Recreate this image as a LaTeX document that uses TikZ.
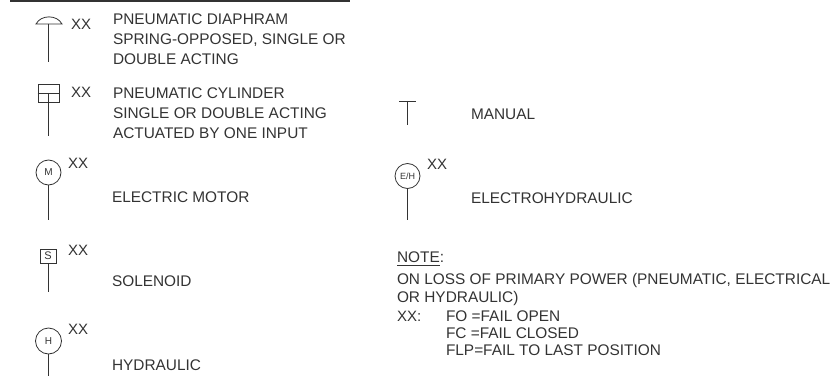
\documentclass[tikz,border=0pt]{standalone}
\usepackage{fontspec}
\setmainfont{Liberation Sans}
\definecolor{ink}{HTML}{333333}
\tikzset{
  lab/.style={anchor=west,inner sep=0pt,outer sep=0pt,text=ink,font=\fontsize{15.4}{20}\selectfont,align=left},
  notelab/.style={lab,font=\fontsize{15.4}{17.3}\selectfont},
  xxlab/.style={lab,font=\fontsize{15}{17}\selectfont},
  sym/.style={draw=ink,line width=0.8pt,inner sep=0pt},
  rnd/.style={sym,circle,minimum size=25pt,text=ink,font=\fontsize{10}{11}\selectfont},
  stem/.style={draw=ink,line width=0.8pt}
}
\begin{document}
\begin{tikzpicture}[x=1pt,y=-1pt]
\useasboundingbox (0,0) rectangle (837,377);
\coordinate (tl) at (10,1.5); \coordinate (tr) at (350,1.5);
\draw[ink,line width=2pt] (tl) -- (tr);

% diaphragm
\coordinate (d1) at (36,24); \coordinate (d2) at (62,24);
\coordinate (dc) at (48.5,24); \coordinate (de) at (48.5,62);
\draw[stem] (d1) .. controls (41,14.5) and (57,14.5) .. (d2) -- cycle;
\draw[stem] (dc) -- (de);
\node[xxlab] (xd) at (71,24) {XX};
\node[lab] (td) at (113,39) {PNEUMATIC DIAPHRAM\\SPRING-OPPOSED, SINGLE OR\\DOUBLE ACTING};

% cylinder
\node[sym,rectangle,minimum width=21pt,minimum height=18pt] (cy) at (48.5,93) {};
\draw[stem] (cy.west) -- (cy.east);
\coordinate (ce) at (48.5,136);
\draw[stem] (cy.center) -- (ce);
\node[xxlab] (xc) at (71,92) {XX};
\node[lab] (tc) at (113,113) {PNEUMATIC CYLINDER\\SINGLE OR DOUBLE ACTING\\ACTUATED BY ONE INPUT};

% motor
\node[rnd] (m) at (48.5,172.5) {M};
\coordinate (me) at (48.5,220);
\draw[stem] (m) -- (me);
\node[xxlab] (xm) at (68,163) {XX};
\node[lab] (tm) at (112,197) {ELECTRIC MOTOR};

% solenoid
\node[sym,rectangle,minimum width=16pt,minimum height=14pt,text=ink,font=\fontsize{11}{12}\selectfont] (s) at (48,256) {S};
\coordinate (se) at (48,292);
\draw[stem] (s) -- (se);
\node[xxlab] (xs) at (68,250) {XX};
\node[lab] (ts) at (112,281) {SOLENOID};

% hydraulic
\node[rnd,minimum size=26pt] (h) at (48.5,341) {H};
\coordinate (he) at (48.5,376);
\draw[stem] (h) -- (he);
\node[xxlab] (xh) at (68,329) {XX};
\node[lab] (th) at (112,365) {HYDRAULIC};

% manual
\coordinate (ma) at (399,101); \coordinate (mb) at (416,101);
\coordinate (mt) at (407.5,101); \coordinate (mu) at (407.5,125);
\draw[stem] (ma) -- (mb);
\draw[stem] (mt) -- (mu);
\node[lab] (tma) at (471,114) {MANUAL};

% electrohydraulic
\node[rnd,font=\fontsize{9}{10}\selectfont] (eh) at (407.5,176) {E/H};
\coordinate (ee) at (407.5,220);
\draw[stem] (eh) -- (ee);
\node[xxlab] (xe) at (427,164) {XX};
\node[lab] (te) at (471,198) {ELECTROHYDRAULIC};

% note
\node[lab] (nt) at (397,257) {NOTE:};
\coordinate (n1) at (397,265); \coordinate (n2) at (440,265);
\draw[ink,line width=0.7pt] (n1) -- (n2);
\node[notelab] (nb) at (397,289.5) {ON LOSS OF PRIMARY POWER (PNEUMATIC, ELECTRICAL\\OR HYDRAULIC)};
\node[xxlab] (nx) at (397,316) {XX:};
\node[notelab] (nf) at (446,333) {FO =FAIL OPEN\\FC =FAIL CLOSED\\FLP=FAIL TO LAST POSITION};
\end{tikzpicture}
\end{document}
